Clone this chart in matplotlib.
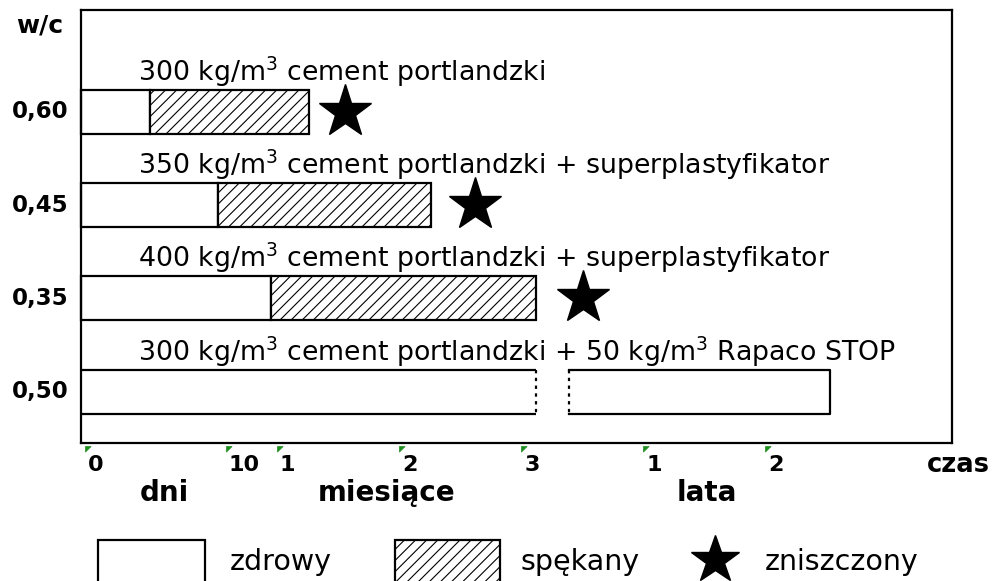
import matplotlib
matplotlib.use('Agg')
import matplotlib.pyplot as plt
from matplotlib.patches import Rectangle
from matplotlib.path import Path

plt.rcParams['font.family'] = ['DejaVu Sans']
plt.rcParams['mathtext.fontset'] = 'dejavusans'
plt.rcParams['hatch.linewidth'] = 0.8

# --- dane ---
wc_labels = ['0,60', '0,45', '0,35', '0,50']
row_titles = [
    r'300 kg/m$^\mathrm{3}$ cement portlandzki',
    r'350 kg/m$^\mathrm{3}$ cement portlandzki + superplastyfikator',
    r'400 kg/m$^\mathrm{3}$ cement portlandzki + superplastyfikator',
    r'300 kg/m$^\mathrm{3}$ cement portlandzki + 50 kg/m$^\mathrm{3}$ Rapaco STOP',
]
healthy_end = [0.54, 1.10, 1.53]        # koniec stanu "zdrowy"
cracked_end = [1.84, 2.84, 3.70]        # koniec stanu "spękany"
star_x = [2.14, 3.20, 4.09]             # zniszczenie
rapaco_seg1 = 3.70                      # koniec pierwszego odcinka (przerwa osi)
rapaco_seg2 = (3.97, 6.11)              # drugi odcinek

tick_pos = [0, 1.15, 1.57, 2.57, 3.57, 4.57, 5.57]
tick_lab = ['0', '10', '1', '2', '3', '1', '2']
unit_lab = [('dni', 0.66), ('miesiące', 2.48), ('lata', 5.10)]

XMIN, XMAX = -0.025, 7.11
H = 0.47
W, HT = 998, 581

fig = plt.figure(figsize=(9.98, 5.81), dpi=100)
ax = fig.add_axes([81 / W, (581 - 443) / HT, (952 - 81) / W, (443 - 10) / HT])
ax.set_xlim(XMIN, XMAX)
ax.set_ylim(3.55, -1.09)
ax.set_xticks([])
ax.set_yticks([])
for s in ax.spines.values():
    s.set_linewidth(1.6)
    s.set_color('black')

lw = 1.6
for i in range(3):
    ax.add_patch(Rectangle((XMIN, i - H / 2), healthy_end[i] - XMIN, H,
                           facecolor='white', edgecolor='black', lw=lw, clip_on=False))
    ax.add_patch(Rectangle((healthy_end[i], i - H / 2), cracked_end[i] - healthy_end[i], H,
                           facecolor='white', edgecolor='black', hatch='///', lw=lw))
    ax.plot(star_x[i], i, marker='*', ms=40, color='black', mec='black')

# wiersz 0,50 - dwa odcinki z przerwą
y0, y1 = 3 - H / 2, 3 + H / 2
ax.plot([XMIN, rapaco_seg1], [y0, y0], color='black', lw=lw, solid_capstyle='butt')
ax.plot([XMIN, rapaco_seg1], [y1, y1], color='black', lw=lw, solid_capstyle='butt')
ax.plot([rapaco_seg1, rapaco_seg1], [y0, y1], color='black', lw=lw, ls=(0, (1.5, 2)))
a, b = rapaco_seg2
ax.plot([a, b, b, a], [y0, y0, y1, y1], color='black', lw=lw)
ax.plot([a, a], [y0, y1], color='black', lw=lw, ls=(0, (1.5, 2)))

for i, t in enumerate(row_titles):
    ax.text(0.44, i - 0.43, t, fontsize=19.3, va='center', ha='left')
    ax.text(-0.13, i, wc_labels[i], fontsize=16.5, fontweight='bold',
            va='center', ha='right', clip_on=False)

ax.text(-0.17, -0.925, 'w/c', fontsize=18, fontweight='bold', va='center', ha='right')

# znaczniki osi czasu (zielone trójkąty)
tri = Path([(0, 0), (1, 0), (0, -1), (0, 0)])
for p, lab in zip(tick_pos, tick_lab):
    ax.plot(p + 0.01, 3.58, marker=tri, ms=8, mfc='#1e8c1e', mec='#1e8c1e',
            mew=0.5, clip_on=False)
    ax.text(p + 0.035, 3.79, lab, fontsize=16, fontweight='bold', ha='left', va='center')
for lab, x in unit_lab:
    ax.text(x, 4.09, lab, fontsize=20, fontweight='bold', ha='center', va='center')
ax.text(7.16, 3.79, 'czas', fontsize=18.5, fontweight='bold', ha='center', va='center')

# legenda
def fx(px):
    return px / W

def fy(py):
    return 1 - py / HT

fig.patches.append(Rectangle((fx(98), fy(600)), fx(205) - fx(98), fy(540) - fy(600),
                             transform=fig.transFigure, facecolor='white',
                             edgecolor='black', lw=lw))
fig.patches.append(Rectangle((fx(395), fy(600)), fx(500) - fx(395), fy(540) - fy(600),
                             transform=fig.transFigure, facecolor='white',
                             edgecolor='black', lw=lw, hatch='///'))
fig.lines.append(plt.Line2D([fx(715)], [fy(560)], marker='*', ms=36, color='black',
                            transform=fig.transFigure))
fig.text(fx(230), fy(562), 'zdrowy', fontsize=20.5, va='center')
fig.text(fx(520), fy(562), 'spękany', fontsize=20.5, va='center')
fig.text(fx(765), fy(562), 'zniszczony', fontsize=20.5, va='center')

fig.savefig('out.png', dpi=100)
